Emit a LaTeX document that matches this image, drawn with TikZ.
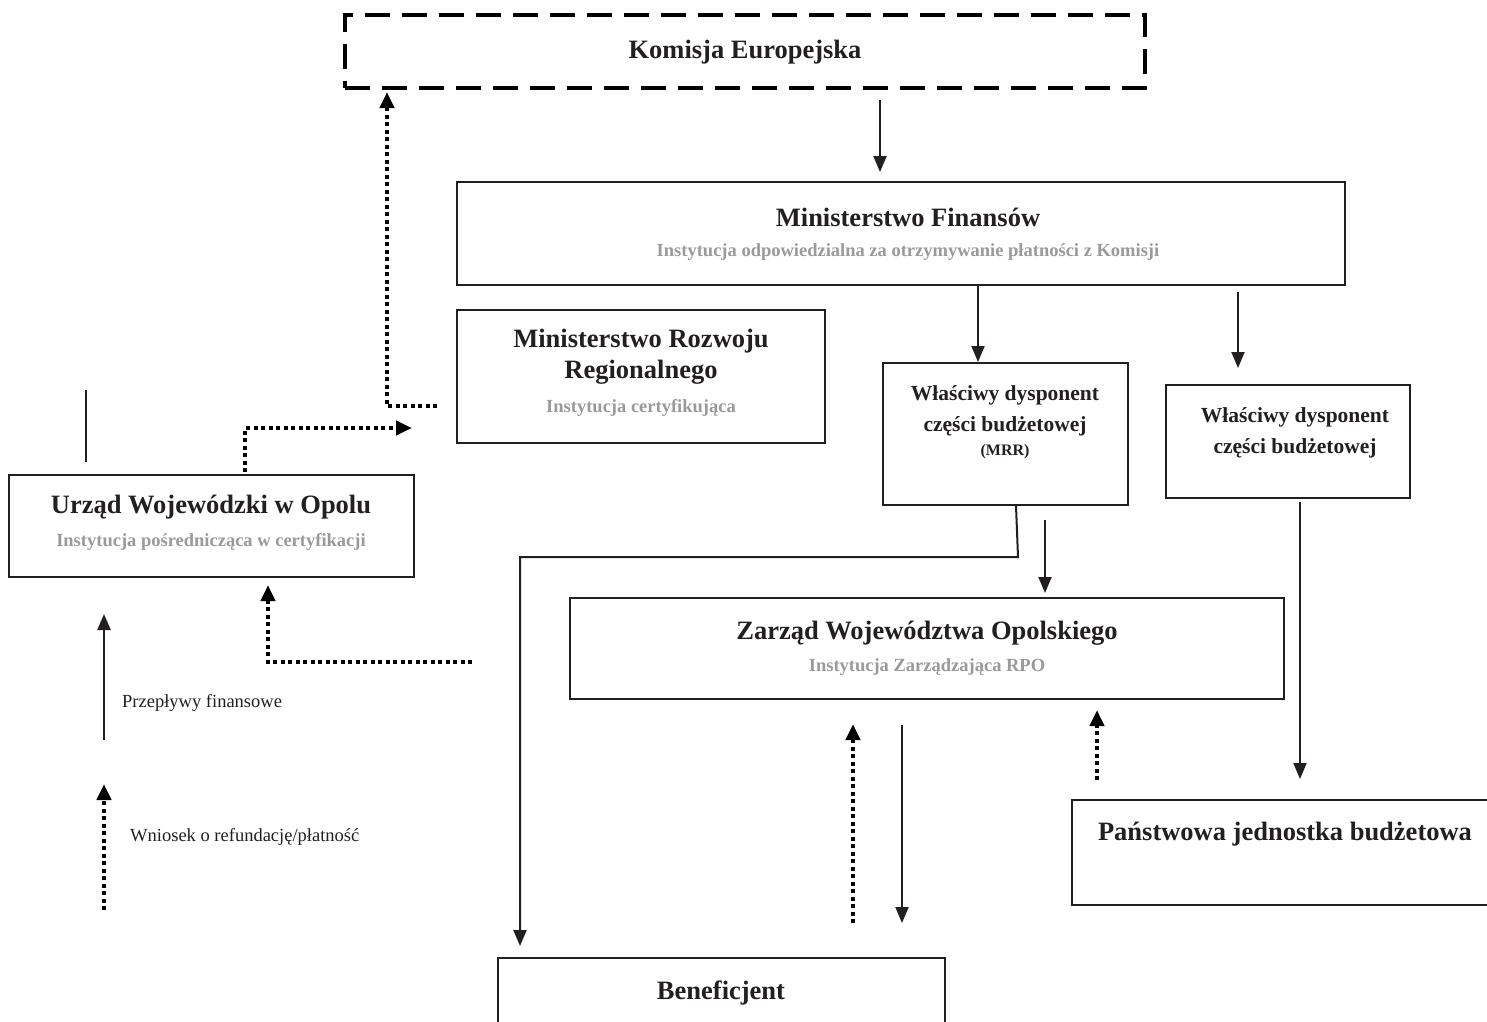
\documentclass[tikz,border=0pt]{standalone}
\usepackage{fontspec}
\setmainfont{Liberation Serif}
\usetikzlibrary{arrows.meta}
\definecolor{ink}{HTML}{231F20}
\definecolor{subgray}{HTML}{9A9A9A}
\tikzset{
  x=1pt, y=-1pt,
  boxnode/.style={draw=ink, line width=2.4pt, rectangle, inner sep=0pt},
  titletext/.style={text=ink, font=\fontsize{26.5}{30}\selectfont\bfseries, inner sep=0pt},
  midtext/.style={text=ink, font=\fontsize{21.5}{24}\selectfont\bfseries, inner sep=0pt},
  subtext/.style={text=subgray, font=\fontsize{18.5}{21}\selectfont\bfseries, inner sep=0pt},
  legtext/.style={text=ink, font=\fontsize{18.5}{21}\selectfont, inner sep=0pt, anchor=west},
  flow/.style={draw=ink, line width=2pt, -{Triangle[length=16pt,width=13pt]}},
  request/.style={draw=black, line width=4pt, dash pattern=on 4pt off 3.5pt, -{Triangle[length=16pt,width=14pt]}},
  plainline/.style={draw=ink, line width=2pt},
}
\begin{document}
\begin{tikzpicture}
\clip (0,0) rectangle (1487,1021);
\fill[white] (0,0) rectangle (1487,1021);

% boxes
\node[draw=black, line width=4pt, dash pattern=on 25pt off 12pt, rectangle, inner sep=0pt,
      minimum width=800pt, minimum height=73pt] (ke) at (745,51.5) {};
\node[boxnode, minimum width=888pt, minimum height=103pt] (mf) at (901,233.5) {};
\node[boxnode, minimum width=368pt, minimum height=133pt] (mrr) at (641,376.5) {};
\node[boxnode, minimum width=245pt, minimum height=142pt] (wdm) at (1005.5,434) {};
\node[boxnode, minimum width=244pt, minimum height=113pt] (wdb) at (1288,441.5) {};
\node[boxnode, minimum width=405pt, minimum height=102pt] (uw) at (211.5,526) {};
\node[boxnode, minimum width=714pt, minimum height=101pt] (zwo) at (927,648.5) {};
\node[boxnode, minimum width=420pt, minimum height=105pt] (pjb) at (1282,852.5) {};
\node[boxnode, minimum width=447pt, minimum height=67pt] (ben) at (721.5,991.5) {};

% texts
\node[titletext] (keT) at (745,52) {Komisja Europejska};
\node[titletext] (mfT) at (908,217) {Ministerstwo Finansów};
\node[subtext] (mfS) at (908,252) {Instytucja odpowiedzialna za otrzymywanie płatności z Komisji};
\node[titletext] (mrrT1) at (641,341) {Ministerstwo Rozwoju};
\node[titletext] (mrrT2) at (641,372) {Regionalnego};
\node[subtext] (mrrS) at (641,408) {Instytucja certyfikująca};
\node[midtext] (wdmT1) at (1005,395) {Właściwy dysponent};
\node[midtext] (wdmT2) at (1005,426) {części budżetowej};
\node[text=ink, font=\fontsize{16}{18}\selectfont\bfseries, inner sep=0pt] (wdmT3) at (1005,452) {(MRR)};
\node[midtext] (wdbT1) at (1295,417) {Właściwy dysponent};
\node[midtext] (wdbT2) at (1295,448) {części budżetowej};
\node[titletext] (uwT) at (211,507) {Urząd Wojewódzki w Opolu};
\node[subtext] (uwS) at (211,542) {Instytucja pośrednicząca w certyfikacji};
\node[titletext] (zwoT) at (927,633) {Zarząd Województwa Opolskiego};
\node[subtext] (zwoS) at (927,667) {Instytucja Zarządzająca RPO};
\node[titletext] (pjbT) at (1285,834) {Państwowa jednostka budżetowa};
\node[titletext] (benT) at (721,993) {Beneficjent};
\node[legtext] (leg1) at (122,703) {Przepływy finansowe};
\node[legtext] (leg2) at (130,837) {Wniosek o refundację/płatność};

% connector end points
\coordinate (a1) at (880,100);  \coordinate (a2) at (880,172);
\coordinate (b1) at (978,285);  \coordinate (b2) at (978,362);
\coordinate (c1) at (1238,292); \coordinate (c2) at (1238,368);
\coordinate (d1) at (1016,506); \coordinate (d2) at (1018,557);
\coordinate (d3) at (520,557);  \coordinate (d4) at (520,946);
\coordinate (e1) at (1045,520); \coordinate (e2) at (1045,593);
\coordinate (f1) at (1300,502); \coordinate (f2) at (1300,779);
\coordinate (g1) at (902,725);  \coordinate (g2) at (902,923);
\coordinate (h1) at (853,923);  \coordinate (h2) at (853,724);
\coordinate (i1) at (1097,780); \coordinate (i2) at (1097,710);
\coordinate (j1) at (245,472);  \coordinate (j2) at (245,428);  \coordinate (j3) at (412,428);
\coordinate (k1) at (437,406);  \coordinate (k2) at (387,406);  \coordinate (k3) at (387,92);
\coordinate (l1) at (472,662);  \coordinate (l2) at (268,662);  \coordinate (l3) at (268,585);
\coordinate (m1) at (86,390);   \coordinate (m2) at (86,462);
\coordinate (n1) at (104,740);  \coordinate (n2) at (104,614);
\coordinate (o1) at (104,910);  \coordinate (o2) at (104,784);

% financial flows
\draw[flow] (a1) -- (a2);
\draw[flow] (b1) -- (b2);
\draw[flow] (c1) -- (c2);
\draw[flow] (d1) -- (d2) -- (d3) -- (d4);
\draw[flow] (e1) -- (e2);
\draw[flow] (f1) -- (f2);
\draw[flow] (g1) -- (g2);
\draw[plainline] (m1) -- (m2);
\draw[flow] (n1) -- (n2);

% requests
\draw[request] (h1) -- (h2);
\draw[request] (i1) -- (i2);
\draw[request] (j1) -- (j2) -- (j3);
\draw[request] (k1) -- (k2) -- (k3);
\draw[request] (l1) -- (l2) -- (l3);
\draw[request] (o1) -- (o2);
\end{tikzpicture}
\end{document}
